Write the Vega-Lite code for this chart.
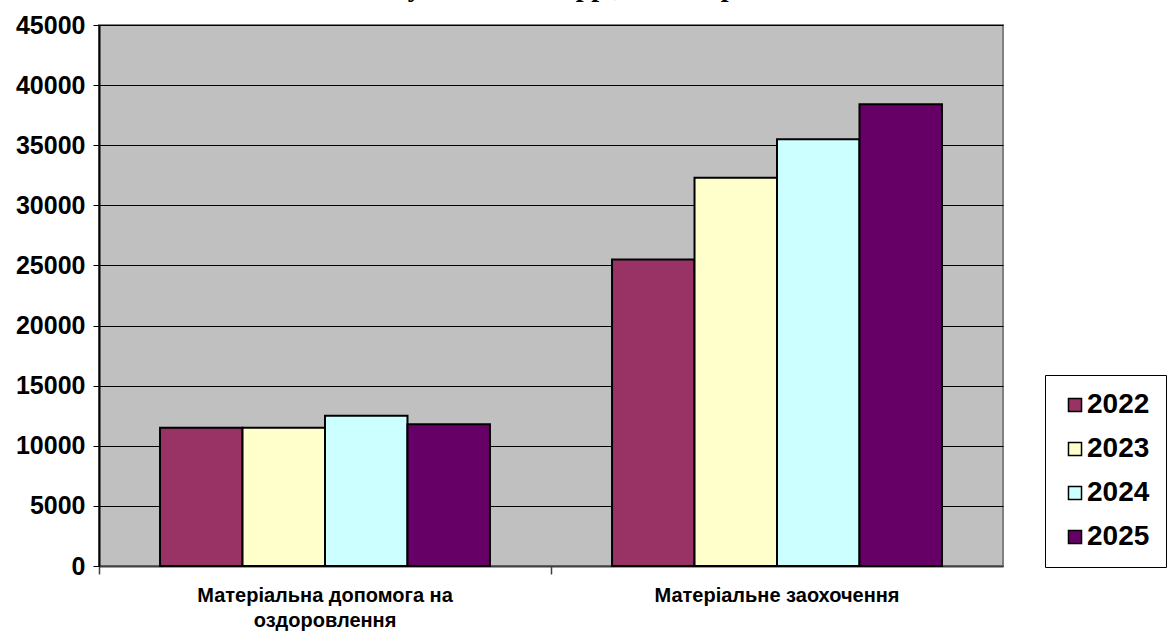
{
  "$schema": "https://vega.github.io/schema/vega-lite/v6.json",
  "width": 904,
  "height": 541,
  "autosize": {"type": "none"},
  "padding": {"left": 99, "top": 25, "right": 164, "bottom": 66},
  "background": "white",
  "title": {
    "text": "Виплати у 2022 – 2025 рр., тисяч гривень",
    "font": "Liberation Serif",
    "fontSize": 28,
    "fontWeight": "bold",
    "color": "black",
    "anchor": "middle",
    "frame": "group",
    "offset": 4,
    "dy": -7,
    "dx": 0
  },
  "data": {
    "values": [
      {"category": "Матеріальна допомога на оздоровлення", "year": "2022", "value": 11500},
      {"category": "Матеріальна допомога на оздоровлення", "year": "2023", "value": 11500},
      {"category": "Матеріальна допомога на оздоровлення", "year": "2024", "value": 12500},
      {"category": "Матеріальна допомога на оздоровлення", "year": "2025", "value": 11800},
      {"category": "Матеріальне заохочення", "year": "2022", "value": 25500},
      {"category": "Матеріальне заохочення", "year": "2023", "value": 32300},
      {"category": "Матеріальне заохочення", "year": "2024", "value": 35500},
      {"category": "Матеріальне заохочення", "year": "2025", "value": 38400}
    ]
  },
  "mark": {"type": "bar", "stroke": "black", "strokeWidth": 2},
  "encoding": {
    "x": {
      "field": "category",
      "type": "nominal",
      "sort": ["Матеріальна допомога на оздоровлення", "Матеріальне заохочення"],
      "scale": {"paddingInner": 0, "paddingOuter": 0},
      "axis": {
        "title": null,
        "labelAngle": 0,
        "bandPosition": 0,
        "domainColor": "#404040",
        "domainWidth": 2,
        "tickColor": "#404040",
        "tickWidth": 1.5,
        "tickSize": 8,
        "labelPadding": 11,
        "labelFont": "Liberation Sans",
        "labelFontSize": 20,
        "labelFontWeight": "bold",
        "labelColor": "black",
        "labelLimit": 0,
        "labelLineHeight": 25,
        "labelBaseline": "top",
        "labelExpr": "datum.label == 'Матеріальна допомога на оздоровлення' ? ['Матеріальна допомога на', 'оздоровлення'] : datum.label"
      }
    },
    "xOffset": {
      "field": "year",
      "type": "nominal",
      "scale": {"paddingInner": 0, "paddingOuter": 0.74}
    },
    "y": {
      "field": "value",
      "type": "quantitative",
      "scale": {"domain": [0, 45000], "nice": false},
      "axis": {
        "title": null,
        "values": [0, 5000, 10000, 15000, 20000, 25000, 30000, 35000, 40000, 45000],
        "format": "d",
        "grid": true,
        "gridColor": "black",
        "gridWidth": 1,
        "gridOpacity": 1,
        "domainColor": "black",
        "domainWidth": 2,
        "tickColor": "black",
        "tickSize": 6,
        "labelPadding": 8,
        "labelFont": "Liberation Sans",
        "labelFontSize": 25,
        "labelFontWeight": "bold",
        "labelColor": "black"
      }
    },
    "color": {
      "field": "year",
      "type": "nominal",
      "scale": {
        "domain": ["2022", "2023", "2024", "2025"],
        "range": ["#993366", "#FFFFCC", "#CCFFFF", "#660066"]
      },
      "legend": {
        "title": null,
        "orient": "none",
        "legendX": 946,
        "legendY": 350,
        "fillColor": "white",
        "strokeColor": "black",
        "padding": 16,
        "symbolType": "square",
        "symbolSize": 170,
        "symbolStrokeColor": "black",
        "symbolStrokeWidth": 1.5,
        "labelFont": "Liberation Sans",
        "labelFontSize": 28,
        "labelFontWeight": "bold",
        "labelColor": "black",
        "labelLimit": 0,
        "rowPadding": 16,
        "labelOffset": -2
      }
    }
  },
  "config": {
    "view": {"fill": "#C0C0C0", "stroke": "#808080", "strokeWidth": 2}
  }
}
